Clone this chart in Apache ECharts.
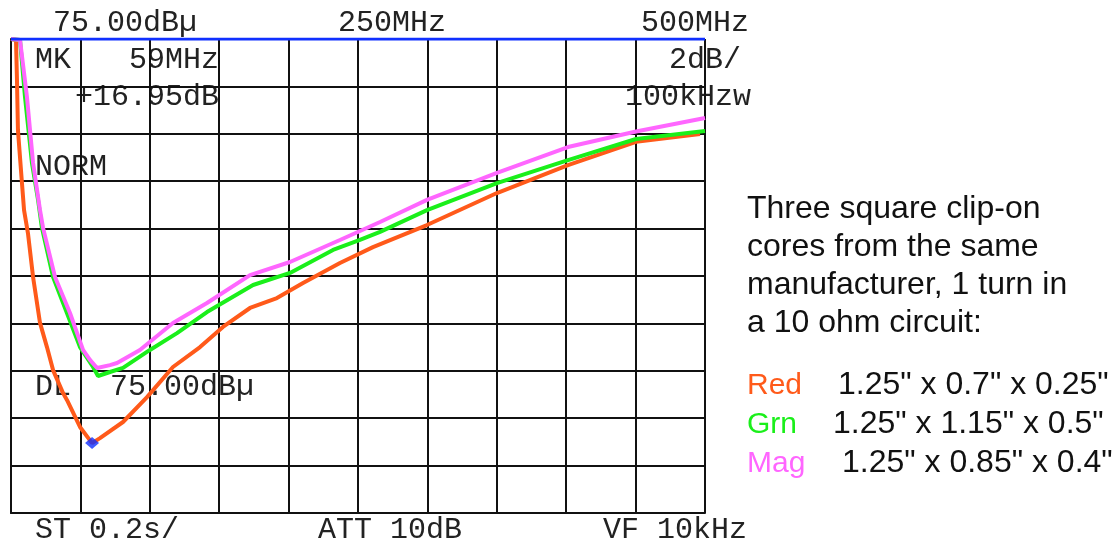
<!DOCTYPE html>
<html><head><meta charset="utf-8">
<script src="https://cdn.jsdelivr.net/npm/echarts@6/dist/echarts.min.js"></script>
<style>html,body{margin:0;padding:0;background:#fff}#c{width:1119px;height:546px}</style>
</head><body><div id="c"></div>
<script>
// Frequency in MHz, level in dBµ (ref 75 dBµ, 2 dB/div)
const redFreq = [0,3.6,4.3,5.0,7.9,9.4,12.2,15.9,20.9,25.9,30.3,37.5,40.3,49.7,58.4,64.1,80.7,98.0,116.7,136.2,152.7,172.2,191.6,210.4,237.0,260.8,299.7,350.1,401.3,450.3,496.4];
const redLevel = [75,74.96,73.27,71.16,68.92,67.78,66.81,64.96,63.02,62.00,61.03,60.06,59.77,58.63,57.95,58.16,58.84,59.89,61.16,62.00,62.85,63.65,64.07,64.70,65.55,66.22,67.15,68.50,69.68,70.66,70.99];
const grnFreq = [0,6.5,10.1,15.1,19.5,22.3,30.3,40.3,49.7,59.1,62.7,71.3,80.7,100.1,119.6,141.2,174.4,201.0,232.0,251.4,265.9,299.7,350.1,401.3,450.3,500];
const grnLevel = [75,74.96,72.55,69.77,68.21,67.03,64.96,63.44,62.00,61.16,60.78,60.95,61.12,61.88,62.59,63.48,64.62,65.13,66.10,66.52,66.86,67.78,68.92,69.89,70.78,71.12];
const magFreq = [0,6.5,11.5,15.9,20.9,23.1,31.7,42.5,51.9,56.9,62.0,71.3,76.4,92.9,116.7,141.2,172.2,201.0,237.0,265.9,299.7,350.1,401.3,450.3,500];
const magLevel = [75,74.96,72.55,69.77,67.78,67.03,64.96,63.44,61.88,61.46,61.12,61.24,61.33,61.88,63.02,63.86,65.04,65.59,66.52,67.28,68.21,69.35,70.44,71.10,71.67];
const refLine = [[0,75],[500,75]];
const markerPoint = [[58.4,57.95]];
const topLabels = ['75.00dBµ','250MHz','500MHz'];
const bottomLabels = ['ST 0.2s/','ATT 10dB','VF 10kHz'];
const infoLabels = ['MK','59MHz','+16.95dB','NORM','2dB/','100kHzw','DL','75.00dBµ'];
const noteLines = ['Three square clip-on','cores from the same','manufacturer, 1 turn in','a 10 ohm circuit:'];
const legendNames = ['Red','Grn','Mag'];
const legendDims = ['1.25" x 0.7" x 0.25"','1.25" x 1.15" x 0.5"','1.25" x 0.85" x 0.4"'];
const colors = ['#ff5a1a','#1aef1a','#ff66ff'];

const zip = (a,b)=>a.map((v,i)=>[v,b[i]]);
const chart = echarts.init(document.getElementById('c'));
const mono = 'Liberation Mono';
const sans = 'Liberation Sans';
const T = (text,x,y,opt={})=>({type:'text',x,y,style:Object.assign({text,font:`30px "${mono}"`,fill:'#222',textVerticalAlign:'middle'},opt)});
const graphics = [
  T(topLabels[0],53,23), T(topLabels[1],392,23,{textAlign:'center'}), T(topLabels[2],749,23,{textAlign:'right'}),
  T(bottomLabels[0],35,530), T(bottomLabels[1],318,530), T(bottomLabels[2],603,530),
  T(infoLabels[0],35,60), T(infoLabels[1],219,60,{textAlign:'right'}), T(infoLabels[2],219,97,{textAlign:'right'}),
  T(infoLabels[3],35,167), T(infoLabels[4],741,60,{textAlign:'right'}), T(infoLabels[5],751,97,{textAlign:'right'}),
  T(infoLabels[6],35,387), T(infoLabels[7],110,387)
];
noteLines.forEach((t,i)=>graphics.push({type:'text',x:747,y:225+i*38,style:{text:t,font:`32px "${sans}"`,fill:'#111',textVerticalAlign:'bottom'}}));
const dimX=[838,833,842];
legendNames.forEach((t,i)=>{
  graphics.push({type:'text',x:747,y:401+i*39,style:{text:t,font:`30px "${sans}"`,fill:colors[i],textVerticalAlign:'bottom'}});
  graphics.push({type:'text',x:dimX[i],y:401+i*39,style:{text:legendDims[i],font:`32px "${sans}"`,fill:'#111',textVerticalAlign:'bottom'}});
});

const lineSeries = (name,data,color)=>({type:'line',name,data,showSymbol:false,symbol:'none',clip:true,
  lineStyle:{color,width:4},z:3});
chart.setOption({
  animation:false,
  grid:{left:11,top:39,width:694,height:474,containLabel:false},
  xAxis:{type:'value',min:0,max:500,interval:50,axisLabel:{show:false},axisTick:{show:false},
    axisLine:{show:true,lineStyle:{color:'#111',width:2}},
    splitLine:{show:true,lineStyle:{color:'#111',width:2}}},
  yAxis:{type:'value',min:55,max:75,interval:2,axisLabel:{show:false},axisTick:{show:false},
    axisLine:{show:true,lineStyle:{color:'#111',width:2}},
    splitLine:{show:true,lineStyle:{color:'#111',width:2}}},
  series:[
    lineSeries('Red',zip(redFreq,redLevel),colors[0]),
    lineSeries('Grn',zip(grnFreq,grnLevel),colors[1]),
    lineSeries('Mag',zip(magFreq,magLevel),colors[2]),
    {type:'line',data:refLine,showSymbol:false,lineStyle:{color:'#1030ff',width:3},z:4},
    {type:'scatter',data:markerPoint,symbol:'diamond',symbolSize:[14,12],itemStyle:{color:'#1030ff'},z:5}
  ],
  graphic:graphics
});
</script></body></html>
